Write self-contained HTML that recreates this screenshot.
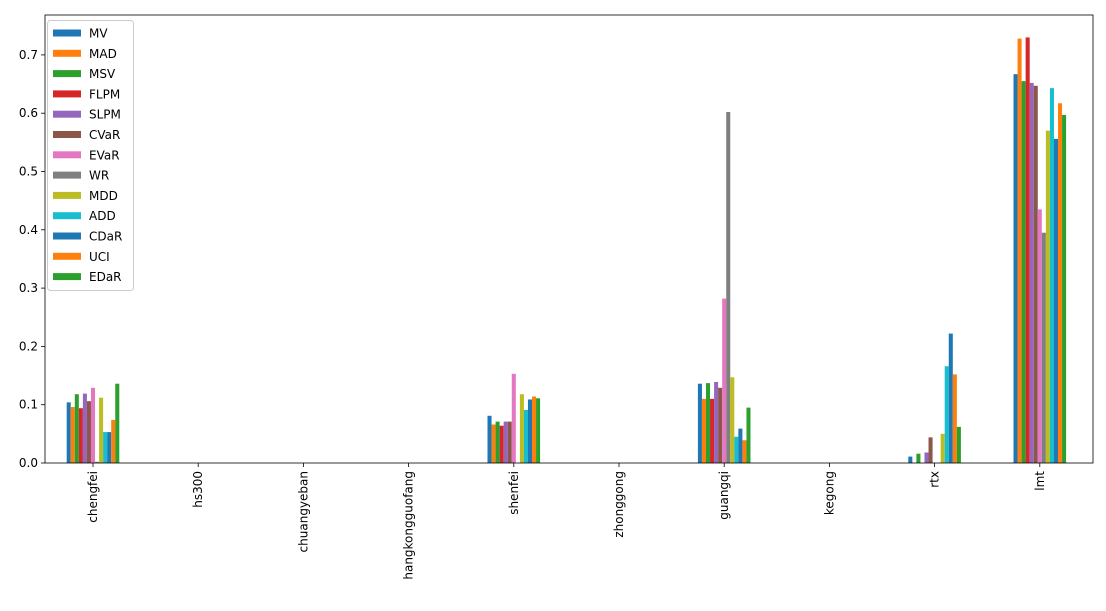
<!DOCTYPE html>
<html><head><meta charset="utf-8"><style>
body{margin:0;background:#fff;font-family:"Liberation Sans","DejaVu Sans",sans-serif}
</style></head><body>
<svg id="chart" width="1106" height="606" xmlns="http://www.w3.org/2000/svg" font-family="DejaVu Sans, Liberation Sans, sans-serif"></svg>
<script>
const categories=["chengfei","hs300","chuangyeban","hangkongguofang","shenfei","zhonggong","guangqi","kegong","rtx","lmt"];
const seriesNames=["MV","MAD","MSV","FLPM","SLPM","CVaR","EVaR","WR","MDD","ADD","CDaR","UCI","EDaR"];
const colors=["#1f77b4","#ff7f0e","#2ca02c","#d62728","#9467bd","#8c564b","#e377c2","#7f7f7f","#bcbd22","#17becf","#1f77b4","#ff7f0e","#2ca02c"];
const chengfei=[0.104,0.096,0.118,0.094,0.119,0.106,0.129,0.002,0.112,0.053,0.053,0.074,0.136];
const shenfei=[0.081,0.066,0.071,0.064,0.071,0.071,0.153,0,0.118,0.091,0.109,0.114,0.111];
const guangqi=[0.136,0.110,0.137,0.110,0.139,0.129,0.282,0.602,0.147,0.045,0.059,0.039,0.095];
const rtx=[0.011,0,0.016,0,0.018,0.044,0,0,0.050,0.166,0.222,0.152,0.062];
const lmt=[0.667,0.728,0.655,0.730,0.652,0.647,0.435,0.395,0.570,0.643,0.556,0.617,0.597];
const zeros=[0,0,0,0,0,0,0,0,0,0,0,0,0];
const values=[chengfei,zeros,zeros,zeros,shenfei,zeros,guangqi,zeros,rtx,lmt];
const yTicks=[0,0.1,0.2,0.3,0.4,0.5,0.6,0.7];
const yTickLabels=["0.0","0.1","0.2","0.3","0.4","0.5","0.6","0.7"];

const svg=document.getElementById('chart');
const NS="http://www.w3.org/2000/svg";
const L=45,R=1093,T=15,B=463;
const y=v=>B-v*583;
const band=105.2;
const x=i=>93+band*i;
function mk(tag,attrs,parent){const e=document.createElementNS(NS,tag);for(const k in attrs)e.setAttribute(k,attrs[k]);(parent||svg).appendChild(e);return e;}

const bw=band*0.5/seriesNames.length;
values.forEach((arr,ci)=>{
  arr.forEach((v,si)=>{
    const bx=x(ci)-band*0.25+si*bw;
    const r=mk('rect',{x:bx,y:y(v),width:bw,height:B-y(v),fill:colors[si]});
    
    
  });
});
yTicks.forEach((t,i)=>{
  const ln=mk('line',{x1:L-4,x2:L,y1:y(t),y2:y(t),stroke:'#000','stroke-width':0.8});
  
  
  const tx=mk('text',{x:L-7,y:y(t)+4,'font-size':12,'text-anchor':'end'});
  tx.textContent=yTickLabels[i];
  
  
});
categories.forEach((c,i)=>{
  const ln=mk('line',{x1:x(i),x2:x(i),y1:B,y2:B+4,stroke:'#000','stroke-width':0.8});
  
  
  const tx=mk('text',{transform:`translate(${x(i)+4},${B+8}) rotate(-90)`,'font-size':12,'text-anchor':'end'});
  tx.textContent=c;
  
  
});
const frame=mk('rect',{x:L,y:T,width:R-L,height:B-T,fill:'none',stroke:'#000','stroke-width':0.8});


const lg=mk('g',{});


mk('rect',{x:47.5,y:20.5,width:86,height:270,rx:3,fill:'#fff',stroke:'#ccc'},lg);
seriesNames.forEach((n,i)=>{
  const yy=33+i*20.3;
  const s=mk('rect',{x:53,y:yy-3.5,width:28,height:7,fill:colors[i]},lg);
  
  
  const t=mk('text',{x:89,y:yy+4.5,'font-size':12},lg);
  t.textContent=n;
  
  
});
</script>
</body></html>
